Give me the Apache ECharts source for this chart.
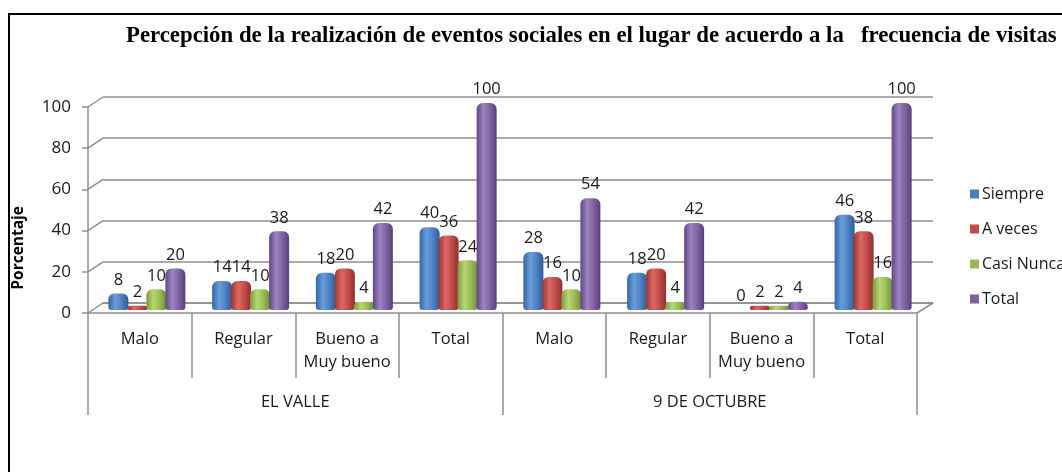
<!DOCTYPE html>
<html>
<head>
<meta charset="utf-8">
<script src="https://cdn.jsdelivr.net/npm/echarts@6/dist/echarts.min.js"></script>
<style>
  html, body { margin: 0; padding: 0; background: #fff; }
  #chart { width: 1062px; height: 472px; }
  #frame { position: absolute; left: 8px; top: 13px; width: 1060px; height: 470px;
           border-top: 2px solid #000; border-left: 2px solid #000; pointer-events: none; }
</style>
</head>
<body>
<div id="chart"></div>
<div id="frame"></div>
<script>
// Datos
var categorias = ['Malo', 'Regular', 'Bueno a\nMuy bueno', 'Total', 'Malo', 'Regular', 'Bueno a\nMuy bueno', 'Total'];
var grupos = ['EL VALLE', '9 DE OCTUBRE'];
var siempre = [8, 14, 18, 40, 28, 18, 0, 46];
var aVeces = [2, 14, 20, 36, 16, 20, 2, 38];
var casiNunca = [10, 10, 4, 24, 10, 4, 2, 16];
var total = [20, 38, 42, 100, 54, 42, 4, 100];
var ticksY = [0, 20, 40, 60, 80, 100];

var chart = echarts.init(document.getElementById('chart'));
var txt = '#1a1a1a';
var gris = '#8f8f8f';
var fuente = '"Open Sans", sans-serif';

// cilindro: degradado horizontal
function cilindro(c) {
  return new echarts.graphic.LinearGradient(0, 0, 1, 0, [
    { offset: 0, color: c[0] },
    { offset: 0.35, color: c[1] },
    { offset: 0.65, color: c[2] },
    { offset: 1, color: c[3] }
  ]);
}

var colores = {
  'Siempre': ['#3465a3', '#6a9cdc', '#4f83c2', '#2e5d96'],
  'A veces': ['#9c3532', '#dc6763', '#c24e4b', '#90302d'],
  'Casi Nunca': ['#7a9b3b', '#b8d774', '#9cbd57', '#6f8e36'],
  'Total': ['#604784', '#9e83c2', '#8164a5', '#584079']
};
var planos = { 'Siempre': '#4a7ebb', 'A veces': '#be4b48', 'Casi Nunca': '#98b954', 'Total': '#7d60a0' };

function serie(nombre, datos) {
  return {
    name: nombre,
    type: 'bar',
    xAxisIndex: 1,
    yAxisIndex: 1,
    data: datos,
    barWidth: 20,
    barGap: '-5%',
    itemStyle: { color: cilindro(colores[nombre]), borderRadius: [6, 6, 3, 3] },
    label: { show: true, position: 'top', distance: 5, fontSize: 16.5, fontFamily: fuente, color: txt }
  };
}

var option = {
  animation: false,
  title: {
    text: 'Percepción de la realización de eventos sociales en el lugar de acuerdo a la   frecuencia de visitas',
    left: 121, top: 20,
    textStyle: { fontFamily: '"Liberation Serif", serif', fontWeight: 'bold', fontSize: 22.8, color: '#000' }
  },
  legend: {
    orient: 'vertical', left: 965, top: 181,
    itemWidth: 9, itemHeight: 9, itemGap: 19,
    textStyle: { fontFamily: fuente, fontSize: 16, color: txt, padding: [0, 0, 0, -2] },
    data: ['Siempre', 'A veces', 'Casi Nunca', 'Total'].map(function(n) {
      return { name: n, icon: 'rect', itemStyle: { color: planos[n] } };
    })
  },
  grid: [
    { left: 103, top: 97, width: 830, height: 206 },   // pared del fondo
    { left: 95, top: 103, width: 830, height: 207 },   // barras
    { left: 88, top: 107, width: 829, height: 206 }    // frente
  ],
  xAxis: [
    { type: 'category', gridIndex: 0, data: categorias,
      axisLine: { lineStyle: { color: gris, width: 1.5 } }, axisTick: { show: false }, axisLabel: { show: false } },
    { type: 'category', gridIndex: 1, data: categorias,
      axisLine: { show: false }, axisTick: { show: false }, axisLabel: { show: false } },
    { type: 'category', gridIndex: 2, data: categorias,
      axisLine: { lineStyle: { color: gris, width: 1.5 } },
      axisTick: { show: true, interval: 0, length: 65, lineStyle: { color: gris, width: 1.5 } },
      axisLabel: { interval: 0, margin: 15, fontSize: 16.5, lineHeight: 23, fontFamily: fuente, color: txt } },
    { type: 'category', gridIndex: 2, data: grupos, position: 'bottom',
      axisLine: { show: false },
      axisTick: { show: true, interval: 0, length: 102, lineStyle: { color: gris, width: 1.5 } },
      axisLabel: { interval: 0, margin: 81, fontSize: 16.5, fontFamily: fuente, color: txt } }
  ],
  yAxis: [
    { type: 'value', gridIndex: 0, min: 0, max: 100, interval: 20,
      axisLine: { show: false }, axisTick: { show: false }, axisLabel: { show: false },
      splitLine: { lineStyle: { color: gris, width: 1.5 } } },
    { type: 'value', gridIndex: 1, min: 0, max: 100, interval: 20,
      axisLine: { show: false }, axisTick: { show: false }, axisLabel: { show: false }, splitLine: { show: false } },
    { type: 'value', gridIndex: 2, min: 0, max: 100, interval: 20,
      axisLine: { show: true, lineStyle: { color: gris, width: 1.5 } },
      axisTick: { show: true, length: 6, lineStyle: { color: gris, width: 1.5 } },
      axisLabel: { margin: 17, fontSize: 17, fontFamily: fuente, color: txt,
        formatter: function(v) { return ticksY.indexOf(v) >= 0 ? String(v) : ''; } },
      splitLine: { show: false } }
  ],
  graphic: [
    { type: 'text', left: 11, top: 206, rotation: Math.PI / 2,
      style: { text: 'Porcentaje', fontFamily: fuente, fontWeight: 'bold', fontSize: 15.5, fill: '#000' } }
  ],
  series: [
    serie('Siempre', siempre),
    serie('A veces', aVeces),
    serie('Casi Nunca', casiNunca),
    serie('Total', total)
  ]
};

chart.setOption(option);

// Diagonales de la pared 3D (del frente al fondo), calculadas desde los ejes
var lineas = [];
ticksY.forEach(function(v) {
  var a = chart.convertToPixel({ xAxisIndex: 2, yAxisIndex: 2 }, [0, v]);
  var b = chart.convertToPixel({ xAxisIndex: 0, yAxisIndex: 0 }, [0, v]);
  lineas.push({ type: 'line', silent: true,
    shape: { x1: 88, y1: a[1], x2: 103, y2: b[1] },
    style: { stroke: gris, lineWidth: 1.5 } });
});
var f0 = chart.convertToPixel({ xAxisIndex: 2, yAxisIndex: 2 }, [0, 0]);
var b0 = chart.convertToPixel({ xAxisIndex: 0, yAxisIndex: 0 }, [0, 0]);
lineas.push({ type: 'line', silent: true,
  shape: { x1: 917, y1: f0[1], x2: 933, y2: b0[1] },
  style: { stroke: gris, lineWidth: 1.5 } });
chart.setOption({ graphic: option.graphic.concat(lineas) });
</script>
</body>
</html>
